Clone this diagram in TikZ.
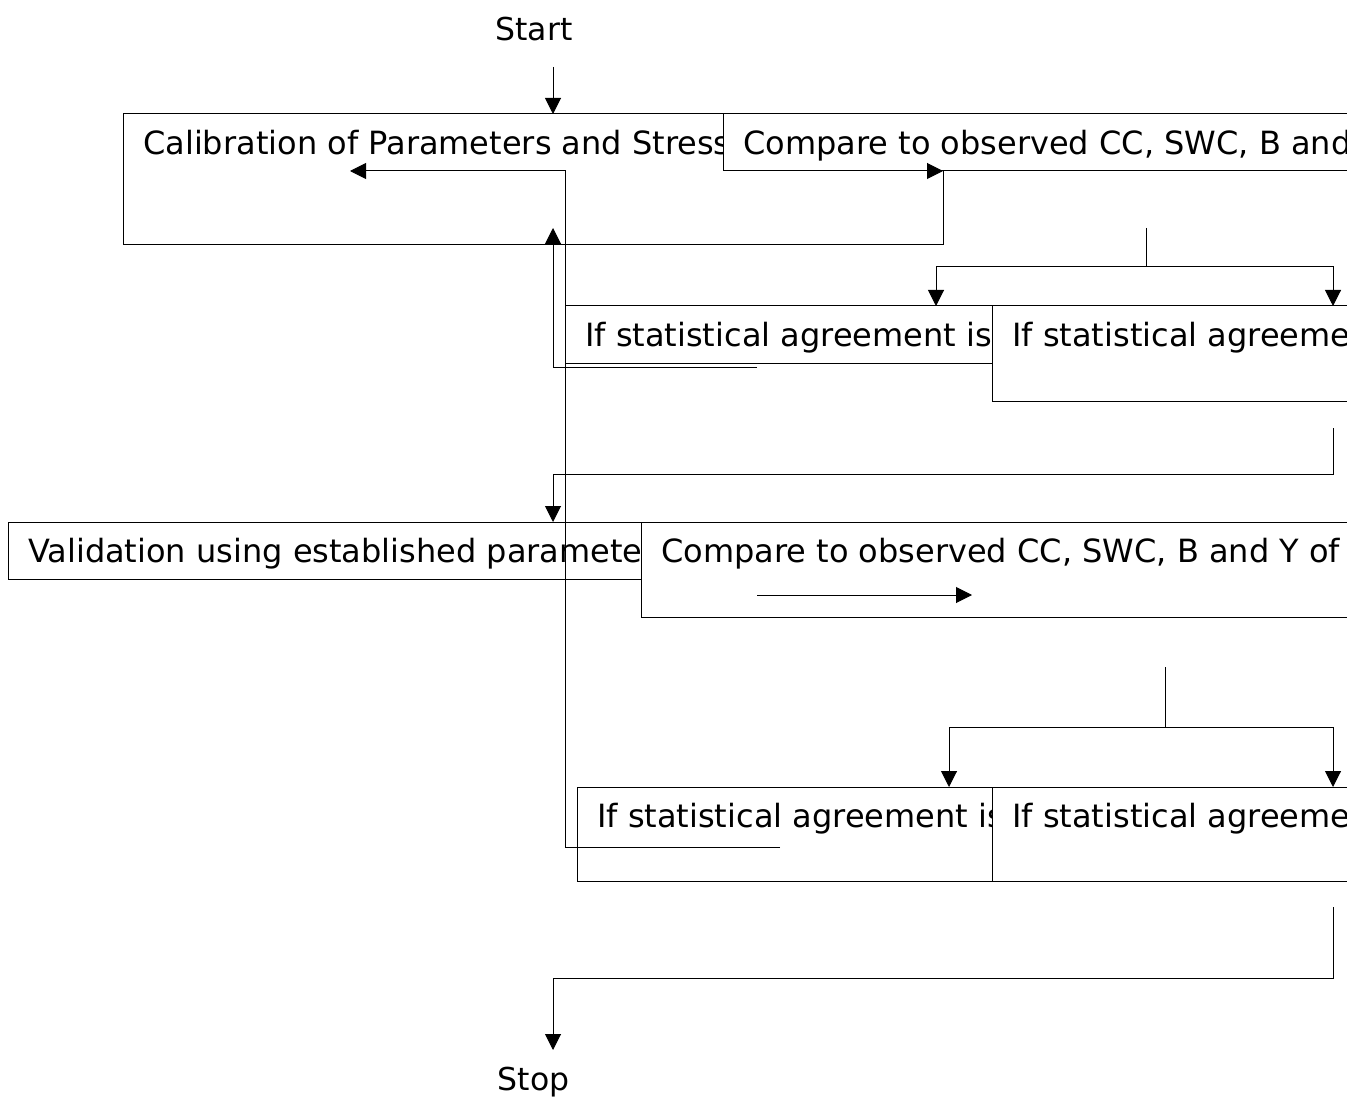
\documentclass[tikz,border=0pt]{standalone}
\usepackage{fontspec}
\setmainfont{DejaVu Sans}
\usetikzlibrary{arrows.meta}
\begin{document}
\begin{tikzpicture}[x=1pt,y=-1pt,
  box/.style={draw=black, fill=white, line width=1pt, rectangle, anchor=north west, inner sep=0pt, outer sep=0pt},
  lbl/.style={anchor=base west, inner sep=0pt, font=\fontsize{32}{38}\selectfont},
  term/.style={anchor=base, inner sep=0pt, font=\fontsize{31.5}{38}\selectfont},
  conn/.style={line width=1pt, draw=black},
  arr/.style={conn, -{Triangle[length=16pt,width=16pt]}}
]
\useasboundingbox (0,0) rectangle (1347,1099);
\clip (0,0) rectangle (1347,1099);
\fill[white] (0,0) rectangle (1347,1099);

% terminals
\node[term] (start) at (534,40.5) {Start};
\node[term] (stop) at (533.5,1090) {Stop};

% row 1
\node[box, minimum width=820pt, minimum height=131pt] (cal) at (123,114) {};
\node[lbl] (calT) at (143,154.5) {Calibration of Parameters and Stress};
\node[box, minimum width=700pt, minimum height=57pt] (cmp1) at (723,114) {};
\node[lbl] (cmp1T) at (743,154.5) {Compare to observed CC, SWC, B and Y};

% row 2
\node[box, minimum width=705pt, minimum height=57pt] (if1a) at (565,306) {};
\node[lbl] (if1aT) at (585,346) {If statistical agreement is};
\node[box, minimum width=420pt, minimum height=95pt] (if1b) at (992,306) {};
\node[lbl] (if1bT) at (1012,346) {If statistical agreement is};

% row 3
\node[box, minimum width=1052pt, minimum height=57pt] (val) at (8,522) {};
\node[lbl] (valT) at (28,562) {Validation using established parameters};
\node[box, minimum width=760pt, minimum height=95pt] (cmp2) at (641,522) {};
\node[lbl] (cmp2T) at (661,562) {Compare to observed CC, SWC, B and Y of};

% row 4
\node[box, minimum width=704pt, minimum height=94pt] (if2a) at (577,787) {};
\node[lbl] (if2aT) at (597,827) {If statistical agreement is};
\node[box, minimum width=420pt, minimum height=94pt] (if2b) at (992,787) {};
\node[lbl] (if2bT) at (1012,827) {If statistical agreement is};

% connector points
\coordinate (s1) at (553,67);
\coordinate (a1) at (757,171);
\coordinate (b1) at (780,847);
\coordinate (b2) at (565,847);
\coordinate (b3) at (565,171);
\coordinate (b4) at (350,171);
\coordinate (c1) at (757,367);
\coordinate (c2) at (553,367);
\coordinate (c3) at (553,228);
\coordinate (f1) at (1146,228);
\coordinate (f1j) at (1146,267);
\coordinate (e1) at (1333,428);
\coordinate (e1j) at (1333,474);
\coordinate (d1) at (757,595);
\coordinate (d2) at (972,595);
\coordinate (f2) at (1165,667);
\coordinate (f2j) at (1165,727);
\coordinate (e2) at (1333,907);
\coordinate (e2j) at (1333,978);
\coordinate (stopin) at (553,1050);

% connectors
\draw[arr] (s1) -- (s1 |- cal.north);
\draw[arr] (a1) -- (a1 -| cal.east);
\draw[arr] (b1) -- (b2) -- (b3) -- (b4);
\draw[arr] (c1) -- (c2) -- (c3);
\draw[conn] (f1) -- (f1j);
\draw[arr] (f1j) -| (936,0 |- if1a.north);
\draw[arr] (f1j) -| (1333,0 |- if1b.north);
\draw[arr] (e1) -- (e1j) -| (553,0 |- val.north);
\draw[arr] (d1) -- (d2);
\draw[conn] (f2) -- (f2j);
\draw[arr] (f2j) -| (949,0 |- if2a.north);
\draw[arr] (f2j) -| (1333,0 |- if2b.north);
\draw[arr] (e2) -- (e2j) -| (stopin);
\end{tikzpicture}
\end{document}
